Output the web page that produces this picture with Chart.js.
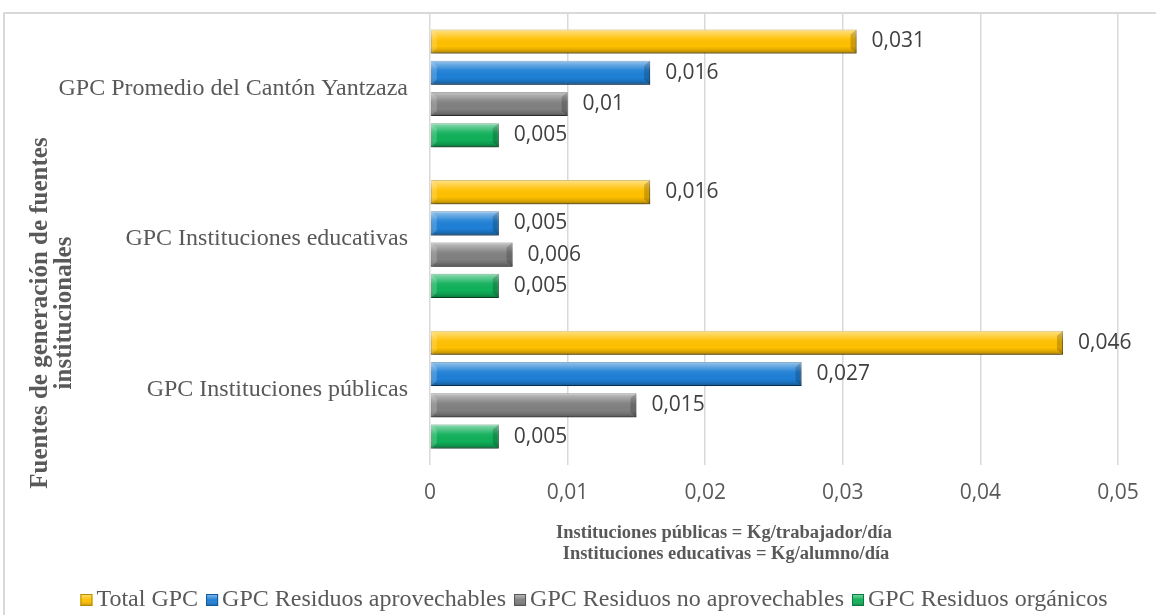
<!DOCTYPE html>
<html>
<head>
<meta charset="utf-8">
<script src="https://cdn.jsdelivr.net/npm/chart.js@4.4.0/dist/chart.umd.min.js"></script>
<style>
  html, body { margin: 0; padding: 0; background: #fff; }
  #wrap { position: relative; width: 1156px; height: 615px; }
</style>
</head>
<body>
<div id="wrap"><canvas id="gpcChart" width="1156" height="615"></canvas></div>
<script>
// Data
const categories = ['GPC Promedio del Cantón Yantzaza', 'GPC Instituciones educativas', 'GPC Instituciones públicas'];
const seriesNames = ['Total GPC', 'GPC Residuos aprovechables', 'GPC Residuos no aprovechables', 'GPC Residuos orgánicos'];
const totalGpc = [0.031, 0.016, 0.046];
const aprovechables = [0.016, 0.005, 0.027];
const noAprovechables = [0.01, 0.006, 0.015];
const organicos = [0.005, 0.005, 0.005];
const xTicks = [0, 0.01, 0.02, 0.03, 0.04, 0.05];
const xTitle = ['Instituciones públicas = Kg/trabajador/día', 'Instituciones educativas = Kg/alumno/día'];
const yTitle = ['Fuentes de generación de fuentes', 'institucionales'];

const colors = ['#FFC000', '#1F80D6', '#808080', '#10B05A'];
const edges = ['#B88A00', '#0F5A9E', '#555555', '#0B7A3E'];

const fmt = v => String(+v.toFixed(3)).replace('.', ',');
const grey = '#595959';

// outer frame (top + left edges visible in the crop)
const framePlugin = {
    id: 'frame',
    beforeDraw(chart) {
        const ctx = chart.ctx;
        ctx.save();
        ctx.strokeStyle = '#d9d9d9';
        ctx.lineWidth = 2;
        ctx.beginPath();
        ctx.moveTo(4, chart.height);
        ctx.lineTo(4, 13);
        ctx.lineTo(chart.width, 13);
        ctx.stroke();
        ctx.restore();
    }
};

// soft shadow under the bars
const shadowPlugin = {
    id: 'barShadow',
    beforeDatasetsDraw(chart) {
        const ctx = chart.ctx;
        ctx.save();
        ctx.shadowColor = 'rgba(0,0,0,0.35)';
        ctx.shadowBlur = 5;
        ctx.shadowOffsetX = 1;
        ctx.shadowOffsetY = 3;
    },
    afterDatasetsDraw(chart) {
        chart.ctx.restore();
    }
};

// bevel look + value labels
const bevelPlugin = {
    id: 'bevel',
    afterDatasetsDraw(chart) {
        const ctx = chart.ctx;
        chart.data.datasets.forEach((ds, di) => {
            const meta = chart.getDatasetMeta(di);
            meta.data.forEach((bar, i) => {
                const p = bar.getProps(['x', 'y', 'base', 'height'], true);
                const top = p.y - p.height / 2;
                const bottom = p.y + p.height / 2;
                const left = p.base, right = p.x;
                ctx.save();
                const g = ctx.createLinearGradient(0, top, 0, bottom);
                g.addColorStop(0, 'rgba(255,255,255,0.55)');
                g.addColorStop(0.15, 'rgba(255,255,255,0.35)');
                g.addColorStop(0.4, 'rgba(255,255,255,0.05)');
                g.addColorStop(0.7, 'rgba(0,0,0,0)');
                g.addColorStop(0.85, 'rgba(0,0,0,0.12)');
                g.addColorStop(1, 'rgba(0,0,0,0.35)');
                ctx.fillStyle = g;
                ctx.fillRect(left, top, right - left, bottom - top);
                // right end bevel
                ctx.fillStyle = 'rgba(0,0,0,0.18)';
                ctx.beginPath();
                ctx.moveTo(right, top);
                ctx.lineTo(right - 6, top + 5);
                ctx.lineTo(right - 6, bottom - 5);
                ctx.lineTo(right, bottom);
                ctx.closePath();
                ctx.fill();
                // left end bevel
                ctx.fillStyle = 'rgba(255,255,255,0.18)';
                ctx.beginPath();
                ctx.moveTo(left, top);
                ctx.lineTo(left + 6, top + 5);
                ctx.lineTo(left + 6, bottom - 5);
                ctx.lineTo(left, bottom);
                ctx.closePath();
                ctx.fill();
                ctx.restore();

                ctx.save();
                ctx.font = '21px "Open Sans"';
                ctx.fillStyle = '#404040';
                ctx.textAlign = 'left';
                ctx.textBaseline = 'middle';
                ctx.fillText(fmt(ds.data[i]), right + 15, p.y);
                ctx.restore();
            });
        });
    }
};

// axis titles + legend laid out like the original
const textPlugin = {
    id: 'titlesLegend',
    afterDraw(chart) {
        const ctx = chart.ctx;
        ctx.save();
        ctx.fillStyle = grey;
        ctx.textAlign = 'center';
        ctx.textBaseline = 'middle';
        ctx.font = 'bold 18.5px "Liberation Serif"';
        ctx.fillText(xTitle[0], 724, 533);
        ctx.fillText(xTitle[1], 726, 554);

        ctx.translate(0, 313);
        ctx.rotate(-Math.PI / 2);
        ctx.font = 'bold 25px "Liberation Serif"';
        ctx.fillText(yTitle[0], 0, 41);
        ctx.fillText(yTitle[1], 0, 65);
        ctx.restore();

        // legend
        ctx.save();
        ctx.font = '24px "Liberation Serif"';
        ctx.textBaseline = 'middle';
        const box = 12, gapText = 4, gapItem = 8;
        const items = chart.data.datasets.map((ds, i) => ({
            label: ds.label, color: colors[i], edge: edges[i],
            w: box + gapText + ctx.measureText(ds.label).width
        }));
        const total = items.reduce((s, it) => s + it.w, 0) + gapItem * (items.length - 1);
        let x = 594 - total / 2;
        const y = 600;
        items.forEach(it => {
            const g = ctx.createLinearGradient(0, y - box / 2, 0, y + box / 2);
            g.addColorStop(0, 'rgba(255,255,255,0.5)');
            g.addColorStop(0.5, 'rgba(255,255,255,0)');
            g.addColorStop(1, 'rgba(0,0,0,0.3)');
            ctx.fillStyle = it.color;
            ctx.fillRect(x, y - box / 2, box, box);
            ctx.fillStyle = g;
            ctx.fillRect(x, y - box / 2, box, box);
            ctx.strokeStyle = it.edge;
            ctx.lineWidth = 1;
            ctx.strokeRect(x + 0.5, y - box / 2 + 0.5, box - 1, box - 1);
            ctx.fillStyle = grey;
            ctx.textAlign = 'left';
            ctx.fillText(it.label, x + box + gapText, y);
            x += it.w + gapItem;
        });
        ctx.restore();
    }
};

const seriesData = [totalGpc, aprovechables, noAprovechables, organicos];

new Chart(document.getElementById('gpcChart'), {
    type: 'bar',
    data: {
        labels: categories,
        datasets: seriesData.map((d, i) => ({
            label: seriesNames[i],
            data: d,
            backgroundColor: colors[i],
            borderColor: edges[i],
            borderWidth: 1,
            borderSkipped: false,
            categoryPercentage: 0.83,
            barPercentage: 0.77
        }))
    },
    options: {
        indexAxis: 'y',
        responsive: false,
        animation: false,
        devicePixelRatio: 1,
        layout: { padding: { left: 0, right: 38, top: 13, bottom: 100 } },
        plugins: {
            legend: { display: false },
            tooltip: { enabled: false }
        },
        scales: {
            x: {
                min: 0,
                max: 0.05,
                afterBuildTicks: scale => { scale.ticks = xTicks.map(v => ({ value: v })); },
                afterFit: scale => { scale.height = 50; },
                border: { display: false },
                grid: { color: '#d9d9d9', lineWidth: 1.5, drawTicks: false },
                ticks: {
                    padding: 15,
                    color: grey,
                    font: { family: 'Open Sans', size: 21 },
                    callback: v => fmt(v)
                }
            },
            y: {
                afterFit: scale => {
                    scale.width = 430;
                    scale.paddingTop = 0;
                    scale.paddingBottom = 0;
                },
                border: { display: false },
                grid: { display: false, drawTicks: false },
                ticks: {
                    padding: 22,
                    color: grey,
                    font: { family: 'Liberation Serif', size: 24 }
                }
            }
        }
    },
    plugins: [framePlugin, shadowPlugin, bevelPlugin, textPlugin]
});
</script>
</body>
</html>
